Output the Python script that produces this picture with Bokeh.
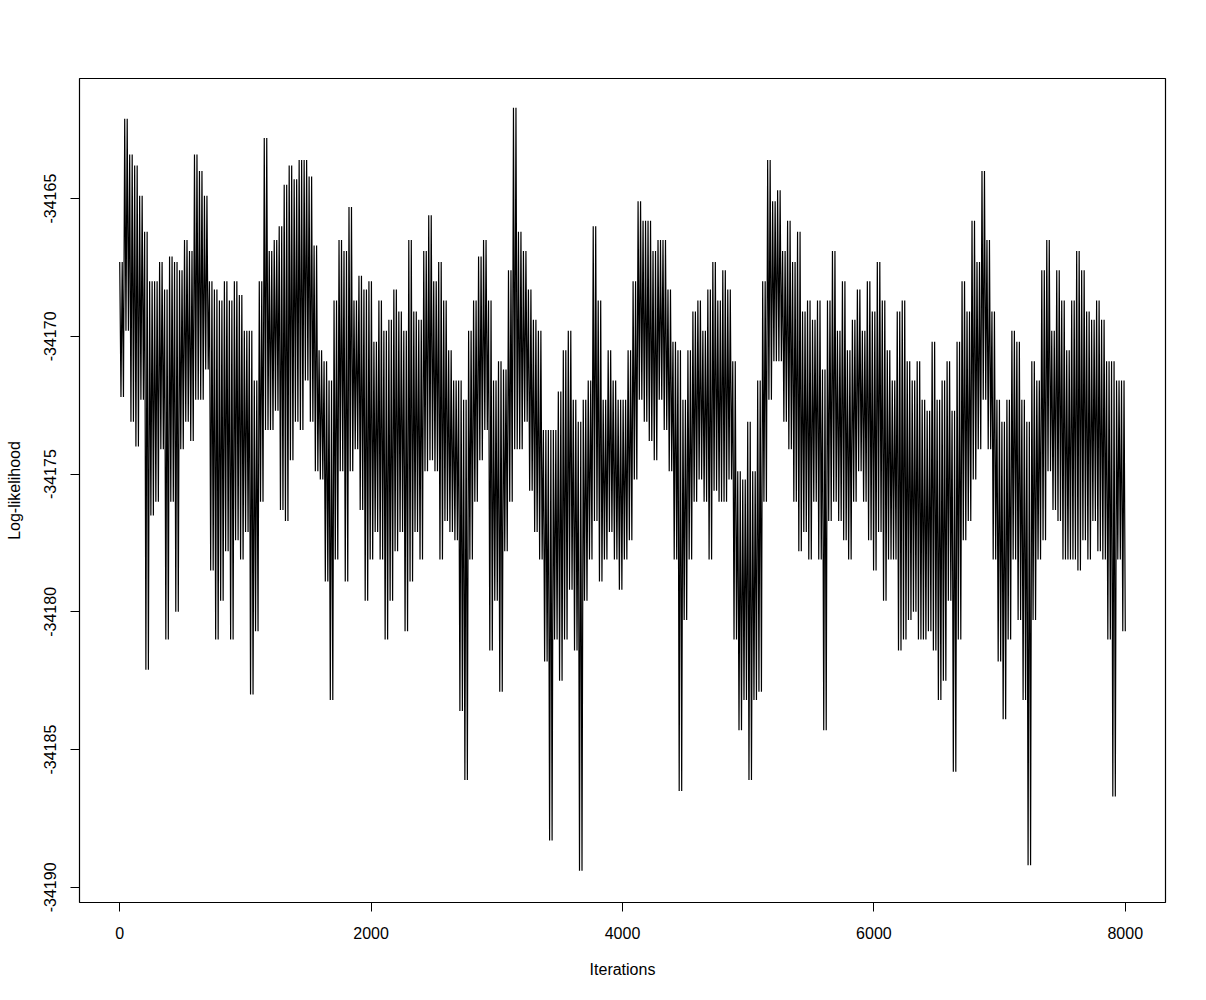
from bokeh.plotting import figure
from bokeh.models import Range1d, FixedTicker
from bokeh.embed import file_html
from bokeh.resources import INLINE

# Upper / lower envelope of the trace, read every ~40 iterations
upper = [
    -34167.3, -34162.1, -34163.4, -34163.8, -34164.9, -34166.2, -34168.0, -34168.0, -34167.3, -34168.3,
    -34167.1, -34167.3, -34167.6, -34166.5, -34166.9, -34163.4, -34164.0, -34164.9, -34168.0, -34168.3,
    -34168.7, -34168.0, -34168.7, -34168.0, -34168.5, -34169.8, -34169.8, -34171.6, -34168.0, -34162.8,
    -34166.9, -34166.5, -34166.0, -34164.5, -34163.8, -34164.3, -34163.6, -34163.6, -34164.2, -34166.7,
    -34170.5, -34170.9, -34171.6, -34168.7, -34166.5, -34166.9, -34165.3, -34168.7, -34167.8, -34168.3,
    -34168.0, -34170.2, -34168.7, -34169.8, -34169.4, -34168.3, -34169.1, -34169.8, -34166.5, -34169.1,
    -34169.4, -34166.9, -34165.6, -34168.0, -34167.3, -34168.7, -34170.5, -34171.6, -34171.6, -34172.3,
    -34169.8, -34168.7, -34167.1, -34166.5, -34168.7, -34171.6, -34170.9, -34171.2, -34167.6, -34161.7,
    -34166.2, -34166.9, -34168.3, -34169.4, -34169.8, -34173.4, -34173.4, -34173.4, -34172.0, -34170.5,
    -34169.8, -34172.3, -34173.1, -34172.3, -34171.6, -34166.0, -34168.7, -34172.3, -34170.5, -34171.6,
    -34172.3, -34172.3, -34170.5, -34168.0, -34165.1, -34165.8, -34165.8, -34166.9, -34166.5, -34166.5,
    -34168.3, -34170.2, -34170.5, -34172.3, -34170.5, -34169.1, -34168.7, -34169.8, -34168.3, -34167.3,
    -34168.7, -34167.6, -34168.3, -34170.9, -34174.9, -34175.2, -34173.1, -34174.9, -34171.6, -34168.0,
    -34163.6, -34165.1, -34164.7, -34166.9, -34165.8, -34167.3, -34166.2, -34169.1, -34168.7, -34169.4,
    -34168.7, -34171.2, -34168.7, -34166.9, -34169.8, -34168.0, -34170.5, -34169.4, -34168.3, -34169.8,
    -34168.0, -34169.1, -34167.3, -34168.7, -34170.5, -34171.6, -34169.1, -34168.7, -34170.9, -34171.6,
    -34170.9, -34172.3, -34172.7, -34170.2, -34172.3, -34171.6, -34170.9, -34172.7, -34170.2, -34168.0,
    -34169.1, -34165.8, -34167.3, -34164.0, -34166.5, -34169.1, -34172.3, -34173.1, -34172.3, -34169.8,
    -34170.2, -34172.3, -34173.1, -34170.9, -34171.6, -34167.6, -34166.5, -34169.8, -34167.6, -34168.7,
    -34170.5, -34168.7, -34166.9, -34167.6, -34169.1, -34169.4, -34168.7, -34169.4, -34170.9, -34170.9,
    -34171.6, -34171.6,
]
lower = [
    -34172.2, -34169.8, -34173.1, -34174.0, -34172.3, -34182.1, -34176.5, -34176.0, -34174.1, -34181.0,
    -34176.0, -34180.0, -34174.1, -34173.1, -34173.8, -34172.3, -34172.3, -34171.2, -34178.5, -34181.0,
    -34179.6, -34177.8, -34181.0, -34177.4, -34178.1, -34177.1, -34183.0, -34180.7, -34176.0, -34173.4,
    -34173.4, -34172.7, -34176.3, -34176.7, -34174.5, -34173.1, -34173.4, -34171.6, -34173.1, -34174.9,
    -34175.2, -34178.9, -34183.2, -34178.1, -34174.9, -34178.9, -34174.9, -34174.1, -34176.3, -34179.6,
    -34178.1, -34177.1, -34178.1, -34181.0, -34179.6, -34177.8, -34177.1, -34180.7, -34178.9, -34177.1,
    -34178.1, -34174.9, -34174.5, -34174.9, -34178.1, -34176.7, -34177.1, -34177.4, -34183.6, -34186.1,
    -34178.1, -34176.0, -34174.5, -34173.4, -34181.4, -34179.6, -34182.9, -34177.8, -34176.0, -34174.1,
    -34174.1, -34173.1, -34175.6, -34177.1, -34178.1, -34181.8, -34188.3, -34181.0, -34182.5, -34181.0,
    -34179.2, -34181.4, -34189.4, -34179.6, -34178.1, -34176.7, -34178.9, -34178.1, -34177.1, -34178.1,
    -34179.2, -34178.1, -34177.4, -34175.2, -34172.3, -34173.1, -34173.8, -34174.5, -34172.3, -34173.4,
    -34174.9, -34178.1, -34186.5, -34180.3, -34178.1, -34176.0, -34175.2, -34176.0, -34178.1, -34175.6,
    -34176.0, -34176.0, -34175.2, -34181.0, -34184.3, -34183.2, -34186.1, -34183.2, -34182.9, -34176.0,
    -34172.3, -34170.9, -34170.9, -34173.1, -34174.1, -34176.0, -34177.8, -34177.1, -34178.1, -34176.0,
    -34178.1, -34184.3, -34176.7, -34176.0, -34176.7, -34177.4, -34178.1, -34176.0, -34174.9, -34176.0,
    -34177.4, -34178.5, -34177.1, -34179.6, -34178.1, -34178.1, -34181.4, -34181.0, -34180.3, -34180.0,
    -34181.0, -34181.0, -34180.7, -34181.4, -34183.2, -34182.5, -34179.6, -34185.8, -34181.0, -34177.4,
    -34176.7, -34175.2, -34174.1, -34172.3, -34174.1, -34178.1, -34181.8, -34183.9, -34181.0, -34178.1,
    -34180.3, -34183.2, -34189.2, -34180.3, -34178.1, -34177.4, -34174.9, -34176.3, -34176.7, -34178.1,
    -34178.1, -34178.1, -34178.5, -34177.4, -34178.1, -34176.7, -34177.8, -34178.1, -34181.0, -34186.7,
    -34178.1, -34180.7,
]
n_iter = 8000
x_ticks = [0, 2000, 4000, 6000, 8000]
x_tick_labels = ["0", "2000", "4000", "6000", "8000"]
y_ticks = [-34190, -34185, -34180, -34175, -34170, -34165]
y_tick_labels = ["-34190", "-34185", "-34180", "-34175", "-34170", "-34165"]
x_title = "Iterations"
y_title = "Log-likelihood"

# trace swings between the envelope values inside each block
n = len(upper)
step = n_iter / (n - 0.25)
xs, ys = [], []
for k in range(n):
    for j, v in enumerate((upper[k], lower[k], upper[k], lower[k])):
        xs.append(k * step + j * step / 4)
        ys.append(v)

FONT = "Liberation Sans"

p = figure(width=1200, height=990, output_backend="svg", toolbar_location=None,
           x_range=Range1d(-320, 8320), y_range=Range1d(-34190.55, -34160.64),
           min_border_left=79, min_border_right=35, min_border_top=78, min_border_bottom=88)
p.background_fill_color = "white"
p.border_fill_color = "white"
p.grid.visible = False
p.outline_line_color = "black"
p.outline_line_width = 1.2
p.outline_line_alpha = 1.0

p.line(xs, ys, line_color="black", line_width=1.2)

for ax, ticks, labels in ((p.xaxis[0], x_ticks, x_tick_labels), (p.yaxis[0], y_ticks, y_tick_labels)):
    ax.ticker = FixedTicker(ticks=ticks)
    ax.major_label_overrides = {t: l for t, l in zip(ticks, labels)}
    ax.axis_line_color = None
    ax.major_tick_line_color = "black"
    ax.major_tick_line_width = 1
    ax.major_tick_in = 0
    ax.major_tick_out = 9
    ax.minor_tick_line_color = None
    ax.major_label_text_font = FONT
    ax.major_label_text_font_size = "16px"
    ax.major_label_text_color = "black"
    ax.axis_label_text_font = FONT
    ax.axis_label_text_font_size = "16px"
    ax.axis_label_text_font_style = "normal"
    ax.axis_label_text_color = "black"

p.xaxis.axis_label = x_title
p.yaxis.axis_label = y_title
p.yaxis.major_label_orientation = "vertical"
p.xaxis.major_label_standoff = 15
p.xaxis.axis_label_standoff = 19
p.yaxis.major_label_standoff = 14
p.yaxis.axis_label_standoff = 19

open("out.html", "w").write(file_html(p, INLINE))
